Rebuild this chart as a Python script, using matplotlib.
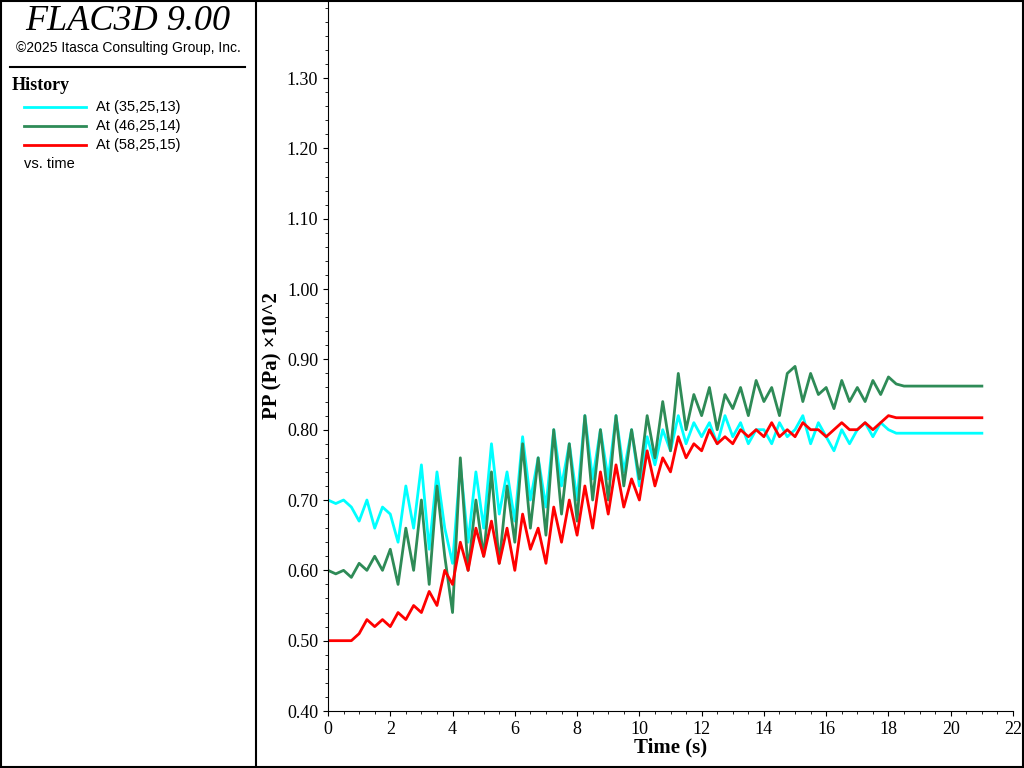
import numpy as np
import matplotlib.pyplot as plt
from matplotlib.lines import Line2D
from matplotlib.ticker import MultipleLocator

# time samples (s): every 0.25 s up to 18.5, then the flat tail to 21
time_s = list(np.arange(0, 18.51, 0.25)) + [21.0]

pp_35_25_13 = [0.70, 0.695, 0.70, 0.69, 0.67, 0.70, 0.66, 0.69, 0.68, 0.64, 0.72, 0.66,
               0.75, 0.63, 0.74, 0.66, 0.61, 0.75, 0.64, 0.74, 0.66, 0.78, 0.68, 0.74,
               0.67, 0.79, 0.70, 0.76, 0.69, 0.80, 0.72, 0.78, 0.70, 0.82, 0.73, 0.80,
               0.73, 0.82, 0.74, 0.80, 0.72, 0.79, 0.75, 0.80, 0.77, 0.82, 0.78, 0.81,
               0.79, 0.81, 0.78, 0.82, 0.79, 0.81, 0.78, 0.80, 0.80, 0.78, 0.81, 0.79,
               0.80, 0.82, 0.78, 0.81, 0.79, 0.77, 0.80, 0.78, 0.80, 0.81, 0.79, 0.81,
               0.80, 0.795, 0.795, 0.795]
pp_46_25_14 = [0.60, 0.595, 0.60, 0.59, 0.61, 0.60, 0.62, 0.60, 0.63, 0.58, 0.66, 0.60,
               0.70, 0.58, 0.72, 0.62, 0.54, 0.76, 0.60, 0.70, 0.62, 0.74, 0.61, 0.72,
               0.64, 0.78, 0.66, 0.76, 0.65, 0.80, 0.68, 0.78, 0.67, 0.82, 0.70, 0.80,
               0.70, 0.82, 0.72, 0.80, 0.73, 0.82, 0.76, 0.84, 0.77, 0.88, 0.80, 0.85,
               0.82, 0.86, 0.80, 0.85, 0.83, 0.86, 0.82, 0.87, 0.84, 0.86, 0.82, 0.88,
               0.89, 0.84, 0.88, 0.85, 0.86, 0.83, 0.87, 0.84, 0.86, 0.84, 0.87, 0.85,
               0.875, 0.865, 0.862, 0.862]
pp_58_25_15 = [0.50, 0.50, 0.50, 0.50, 0.51, 0.53, 0.52, 0.53, 0.52, 0.54, 0.53, 0.55,
               0.54, 0.57, 0.55, 0.60, 0.58, 0.64, 0.60, 0.66, 0.62, 0.67, 0.61, 0.66,
               0.60, 0.68, 0.63, 0.66, 0.61, 0.69, 0.64, 0.70, 0.65, 0.72, 0.66, 0.74,
               0.68, 0.75, 0.69, 0.73, 0.70, 0.77, 0.72, 0.76, 0.74, 0.79, 0.76, 0.78,
               0.77, 0.80, 0.78, 0.79, 0.78, 0.80, 0.79, 0.80, 0.79, 0.81, 0.79, 0.80,
               0.79, 0.81, 0.80, 0.80, 0.79, 0.80, 0.81, 0.80, 0.80, 0.81, 0.80, 0.81,
               0.82, 0.817, 0.817, 0.817]

labels = ['At (35,25,13)', 'At (46,25,14)', 'At (58,25,15)']
colors = ['#00FFFF', '#2E8B57', '#FF0000']
series = [pp_35_25_13, pp_46_25_14, pp_58_25_15]

serif = 'Liberation Serif'
sans = 'Liberation Sans'

fig = plt.figure(figsize=(10.24, 7.68), dpi=100)
ax = fig.add_axes([328 / 1024, 57 / 768, 685 / 1024, 711 / 768])

for vals, c in zip(series, colors):
    ax.plot(time_s, vals, color=c, linewidth=2)

ax.set_xlim(0, 22)
ax.set_ylim(0.40, 1.411)
ax.xaxis.set_major_locator(MultipleLocator(2))
ax.xaxis.set_minor_locator(MultipleLocator(0.5))
ax.yaxis.set_minor_locator(MultipleLocator(0.02))
ax.set_yticks(np.arange(0.4, 1.31, 0.1))
ax.yaxis.set_major_formatter(plt.FuncFormatter(lambda v, p: f'{v:.2f}'))
for s in ['top', 'right']:
    ax.spines[s].set_visible(False)
ax.tick_params(labelsize=13)
for lab in ax.get_xticklabels() + ax.get_yticklabels():
    lab.set_fontfamily(serif)
ax.set_xlabel('Time (s)', fontfamily=serif, fontsize=15, fontweight='bold', labelpad=0)
ax.set_ylabel('PP (Pa) ×10^2', fontfamily=serif, fontsize=15, fontweight='bold')
ax.yaxis.set_label_coords(-0.066, 0.5)

# left info panel
fig.add_artist(Line2D([256 / 1024, 256 / 1024], [0, 1], color='black', linewidth=1.5))
fig.add_artist(plt.Rectangle((0.001, 0.001), 0.998, 0.998, fill=False, edgecolor='black', linewidth=1.5))
fig.text(128 / 1024, 1 - 22 / 768, 'FLAC3D 9.00', fontfamily=serif, fontstyle='italic',
         fontsize=26, ha='center', va='center')
fig.text(128 / 1024, 1 - 48 / 768, '©2025 Itasca Consulting Group, Inc.', fontfamily=sans,
         fontsize=10, ha='center', va='center')
fig.add_artist(Line2D([10 / 1024, 245 / 1024], [1 - 67 / 768] * 2, color='black', linewidth=1.5))
fig.text(12 / 1024, 1 - 86 / 768, 'History', fontfamily=serif, fontweight='bold', fontsize=13,
         va='center')
for i, (lab, c) in enumerate(zip(labels, colors)):
    y = 1 - (107 + 19 * i) / 768
    fig.add_artist(Line2D([24 / 1024, 86 / 1024], [y, y], color=c, linewidth=2))
    fig.text(96 / 1024, y, lab, fontfamily=sans, fontsize=10.5, va='center')
fig.text(24 / 1024, 1 - 164 / 768, 'vs. time', fontfamily=sans, fontsize=10.5, va='center')

fig.savefig('out.png', dpi=100)
